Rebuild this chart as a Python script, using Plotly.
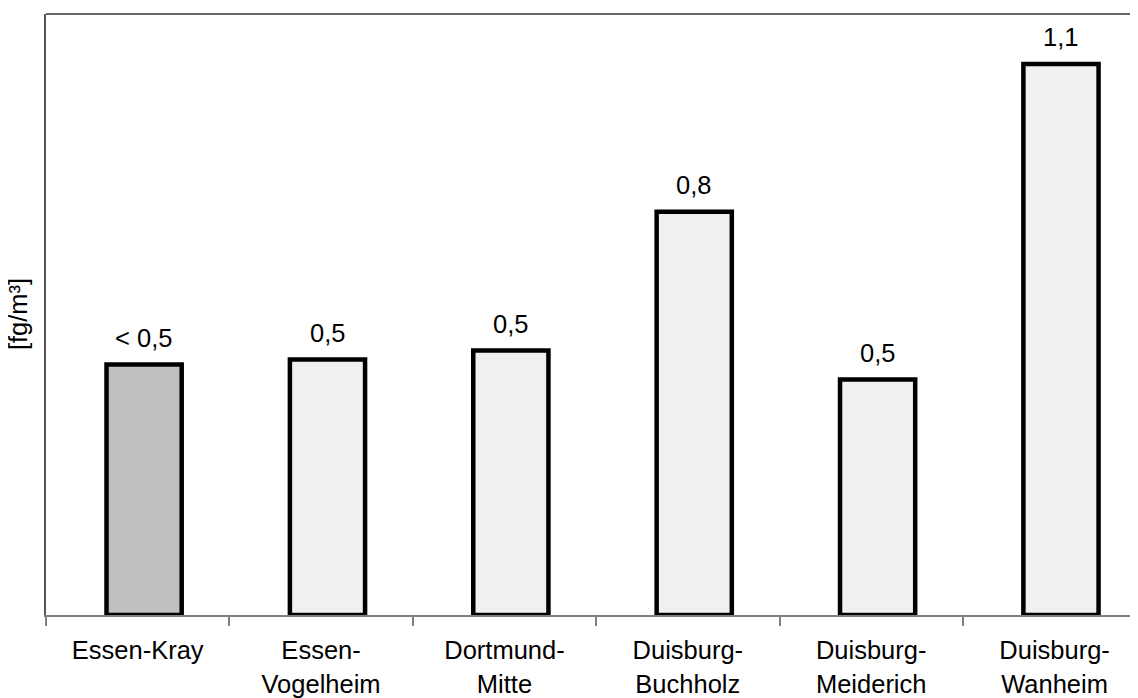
import plotly.graph_objects as go

# =====================================================
# DONNEES
# =====================================================
stations = ["Essen-Kray", "Essen-<br>Vogelheim", "Dortmund-<br>Mitte",
            "Duisburg-<br>Buchholz", "Duisburg-<br>Meiderich", "Duisburg-<br>Wanheim"]
werte = [0.50, 0.51, 0.528, 0.805, 0.47, 1.10]
labels = ["< 0,5", "0,5", "0,5", "0,8", "0,5", "1,1"]
farben = ["#c0c0c0", "#f0f0f0", "#f0f0f0", "#f0f0f0", "#f0f0f0", "#f0f0f0"]

FONT = "Liberation Sans, Arial, sans-serif"
FS = 25.5

fig = go.Figure()

fig.add_trace(go.Bar(
    x=stations,
    y=werte,
    width=0.41,
    offset=-0.17,
    marker=dict(color=farben, line=dict(color="black", width=4.5)),
    hoverinfo="skip",
))

# labels au-dessus des barres
for st, v, lab in zip(stations, werte, labels):
    fig.add_annotation(
        x=st, y=v, text=lab, showarrow=False,
        xshift=6, yanchor="bottom", yshift=11,
        font=dict(size=FS, color="black", family=FONT),
    )

# titre axe y
fig.add_annotation(
    xref="paper", yref="paper", x=-0.026, y=0.5,
    text="[fg/m³]", textangle=-90, showarrow=False,
    xanchor="center", yanchor="middle",
    font=dict(size=FS, color="black", family=FONT),
)

# ligne du haut
fig.add_shape(type="line", xref="paper", yref="paper",
              x0=0, x1=1, y0=1, y1=1,
              line=dict(color="#333333", width=1.5))

fig.update_xaxes(
    type="category",
    range=[-0.5, 5.455],
    showline=True, linecolor="#808080", linewidth=1.5,
    ticks="outside", tickson="boundaries", ticklen=9,
    tickcolor="#808080", tickwidth=1.5,
    ticklabelstandoff=12,
    tickfont=dict(size=FS, color="black", family=FONT),
    showgrid=False,
)
fig.update_yaxes(
    range=[0, 1.2],
    showline=True, linecolor="#555555", linewidth=1.5,
    showticklabels=False, ticks="",
    showgrid=False, zeroline=False,
)

# la page ajoute 8px de marge autour du graphique
fig.update_layout(
    width=1130, height=690,
    margin=dict(l=38, r=0, t=6, b=78),
    plot_bgcolor="white", paper_bgcolor="white",
    showlegend=False,
    font=dict(family=FONT, color="black"),
)

fig.write_html("out.html")
